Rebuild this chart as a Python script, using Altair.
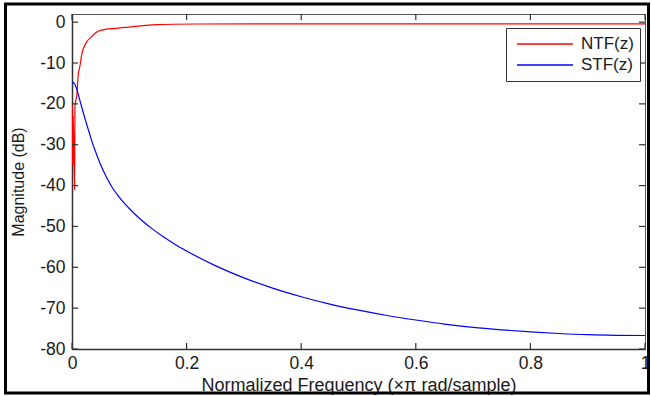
import altair as alt
import pandas as pd

# ---- data ----
series = ["NTF(z)", "STF(z)"]
colors = ["#ff0000", "#0000ff"]

ntf_freq = [0.0, 0.0009, 0.0011, 0.0013, 0.0015, 0.0017, 0.0019, 0.0021, 0.0045, 0.0052,
            0.0087, 0.0105, 0.014, 0.0175, 0.024, 0.033, 0.042, 0.05, 0.077, 0.1,
            0.147, 0.216, 0.4, 0.6, 0.8, 1.0]
ntf_mag = [-20.3, -22.8, -35.0, -23.0, -35.0, -23.0, -35.0, -23.0, -41.0, -20.5,
           -17.5, -13.5, -10.6, -7.6, -5.2, -3.7, -2.5, -2.0, -1.5, -1.2,
           -0.6, -0.45, -0.4, -0.4, -0.4, -0.4]

stf_freq = [0.0, 0.005, 0.01, 0.015, 0.02, 0.025, 0.03, 0.035, 0.04, 0.05, 0.06,
            0.07, 0.08, 0.09, 0.1, 0.12, 0.14, 0.16, 0.18, 0.2, 0.25, 0.3, 0.35,
            0.4, 0.45, 0.5, 0.55, 0.6, 0.65, 0.7, 0.75, 0.8, 0.85, 0.9, 0.95, 1.0]
stf_mag = [-14.6, -15.2, -17.2, -19.8, -22.3, -24.7, -27.0, -29.3, -31.3, -34.9, -37.9,
           -40.4, -42.4, -44.1, -45.6, -48.3, -50.6, -52.6, -54.4, -56.0, -59.6, -62.6, -65.1,
           -67.2, -69.0, -70.5, -71.8, -72.9, -73.9, -74.7, -75.3, -75.8, -76.2, -76.5, -76.65, -76.7]

x_ticks = [0, 0.2, 0.4, 0.6, 0.8, 1]
y_ticks = [0, -10, -20, -30, -40, -50, -60, -70, -80]

df = pd.concat([
    pd.DataFrame({"f": ntf_freq, "m": ntf_mag, "s": series[0]}),
    pd.DataFrame({"f": stf_freq, "m": stf_mag, "s": series[1]}),
], ignore_index=True)
xt = pd.DataFrame({"f": x_ticks})
yt = pd.DataFrame({"m": y_ticks})

W, H = 573, 335
FONT = "Liberation Sans"
TXT = "#1a1a1a"

xscale = alt.Scale(domain=[0, 1], nice=False, zero=False)
yscale = alt.Scale(domain=[-80, 2], nice=False, zero=False)

xaxis = alt.Axis(values=x_ticks, title="Normalized Frequency (×π rad/sample)",
                 labelExpr="datum.value + ''", labelFlush=False,
                 labelPadding=5, titleY=41.5, titleBaseline="alphabetic",
                 titleFontSize=18)
yaxis = alt.Axis(values=y_ticks, title="Magnitude (dB)",
                 labelExpr="datum.value + ''", labelFlush=False,
                 labelPadding=7, titleX=-54, titleY=167.5,
                 titleBaseline="middle", titleAlign="center", titleAngle=270,
                 titleFontSize=16)

X = alt.X("f:Q", scale=xscale, axis=xaxis)
Y = alt.Y("m:Q", scale=yscale, axis=yaxis)

lines = alt.Chart(df).mark_line(strokeWidth=1.2, clip=True, interpolate="monotone").encode(
    x=X, y=Y,
    color=alt.Color("s:N", scale=alt.Scale(domain=series, range=colors),
                    legend=alt.Legend(title=None, orient="none", legendX=434, legendY=14,
                                      padding=6, strokeColor="#333", fillColor="white",
                                      symbolType="stroke", symbolSize=3136,
                                      symbolStrokeWidth=1.5, clipHeight=20, rowPadding=1,
                                      symbolOffset=4, labelOffset=7,
                                      labelFontSize=17, labelFont=FONT, labelColor=TXT)),
    order=alt.Order("f:Q"),
)

tick_color = "#333"
bot_ticks = alt.Chart(xt).mark_rule(color=tick_color, strokeWidth=1.2).encode(
    x=X, y=alt.value(H), y2=alt.value(H - 6))
top_ticks = alt.Chart(xt).mark_rule(color=tick_color, strokeWidth=1.2).encode(
    x=X, y=alt.value(0), y2=alt.value(6))
left_ticks = alt.Chart(yt).mark_rule(color=tick_color, strokeWidth=1.2).encode(
    y=Y, x=alt.value(0), x2=alt.value(6))
right_ticks = alt.Chart(yt).mark_rule(color=tick_color, strokeWidth=1.2).encode(
    y=Y, x=alt.value(W), x2=alt.value(W - 6))

frame = alt.Chart(pd.DataFrame({"a": [0]})).mark_rect(
    filled=False, stroke="black", strokeWidth=3).encode(
    x=alt.value(-66.5), x2=alt.value(576.5), y=alt.value(-10), y2=alt.value(379))

chart = alt.layer(lines, bot_ticks, top_ticks, left_ticks, right_ticks, frame).properties(
    width=W, height=H,
    padding={"left": 72, "top": 14, "right": 6, "bottom": 47},
    autosize=alt.AutoSizeParams(type="none"),
    background="white",
).configure_view(
    stroke="#555", strokeWidth=1
).configure_axis(
    domainColor="#333", domainWidth=1.5, ticks=False, tickSize=0, grid=False,
    labelFont=FONT, labelFontSize=17.5, labelColor=TXT,
    titleFont=FONT, titleColor=TXT, titleFontWeight="normal",
)

chart.save("out.html", embed_options={"renderer": "svg", "actions": False})
